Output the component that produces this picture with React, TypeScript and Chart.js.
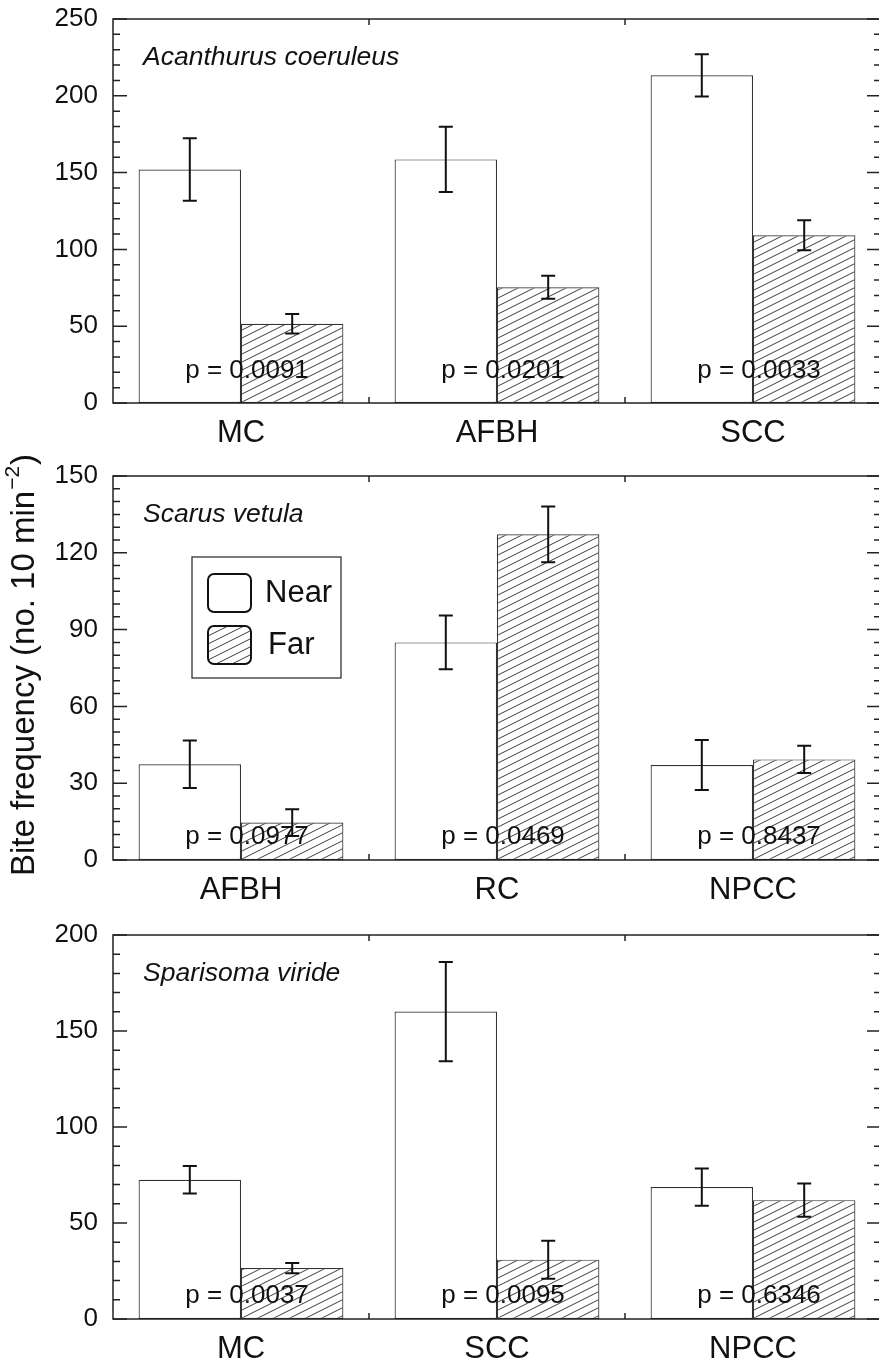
import React, { useEffect, useRef } from 'react';
import { Chart, registerables } from 'chart.js';

Chart.register(...registerables);

const FONT = "'Liberation Sans', Arial, Helvetica, sans-serif";

const seriesNames = ['Near', 'Far'];

// Panel 1: Acanthurus coeruleus
const acSpecies = 'Acanthurus coeruleus';
const acCategories = ['MC', 'AFBH', 'SCC'];
const acNear = [152, 158.6, 213.3];
const acNearSE = [20.3, 21.2, 13.7];
const acFar = [51.6, 75.3, 109.2];
const acFarSE = [6.3, 7.5, 9.8];
const acP = ['p = 0.0091', 'p = 0.0201', 'p = 0.0033'];
const acYTicks = [0, 250, 50, 10]; // min, max, major step, minor step

// Panel 2: Scarus vetula
const svSpecies = 'Scarus vetula';
const svCategories = ['AFBH', 'RC', 'NPCC'];
const svNear = [37.4, 85.0, 37.1];
const svNearSE = [9.3, 10.5, 9.8];
const svFar = [14.6, 127.2, 39.3];
const svFarSE = [5.2, 10.9, 5.3];
const svP = ['p = 0.0977', 'p = 0.0469', 'p = 0.8437'];
const svYTicks = [0, 150, 30, 5];

// Panel 3: Sparisoma viride
const spSpecies = 'Sparisoma viride';
const spCategories = ['MC', 'SCC', 'NPCC'];
const spNear = [72.5, 160.1, 68.7];
const spNearSE = [7.2, 25.8, 9.7];
const spFar = [26.5, 30.9, 61.9];
const spFarSE = [2.7, 9.9, 8.7];
const spP = ['p = 0.0037', 'p = 0.0095', 'p = 0.6346'];
const spYTicks = [0, 200, 50, 10];

const yTitleMain = 'Bite frequency (no. 10 min';
const yTitleSup = '\u22122';
const yTitleEnd = ')';

type PanelCfg = {
  species: string;
  categories: string[];
  near: number[];
  nearSE: number[];
  far: number[];
  farSE: number[];
  pLabels: string[];
  yTicks: number[];
  canvasTop: number;
  pOffset: number;
  legend: boolean;
  yTitle: boolean;
};

const panels: PanelCfg[] = [
  { species: acSpecies, categories: acCategories, near: acNear, nearSE: acNearSE, far: acFar, farSE: acFarSE, pLabels: acP, yTicks: acYTicks, canvasTop: -21, pOffset: 32, legend: false, yTitle: false },
  { species: svSpecies, categories: svCategories, near: svNear, nearSE: svNearSE, far: svFar, farSE: svFarSE, pLabels: svP, yTicks: svYTicks, canvasTop: 436, pOffset: 23, legend: true, yTitle: true },
  { species: spSpecies, categories: spCategories, near: spNear, nearSE: spNearSE, far: spFar, farSE: spFarSE, pLabels: spP, yTicks: spYTicks, canvasTop: 895, pOffset: 23, legend: false, yTitle: false },
];

function makeHatch(): CanvasPattern | string {
  const c = document.createElement('canvas');
  c.width = 16;
  c.height = 8;
  const g = c.getContext('2d');
  if (!g) return '#fff';
  g.fillStyle = '#fff';
  g.fillRect(0, 0, 16, 8);
  g.strokeStyle = '#3c3c3c';
  g.lineWidth = 1;
  for (const off of [-8, 0, 8]) {
    g.beginPath();
    g.moveTo(-16, 16 + off);
    g.lineTo(32, -8 + off);
    g.stroke();
  }
  return g.createPattern(c, 'repeat') || '#fff';
}

const decorPlugin = {
  id: 'panelDecor',
  afterDatasetsDraw(chart: any, _args: any, opts: any) {
    const cfg: PanelCfg = opts.cfg;
    const ctx: CanvasRenderingContext2D = chart.ctx;
    const a = chart.chartArea;
    const xs = chart.scales.x;
    const ys = chart.scales.y;
    const [yMin, yMax, yMajor, yMinor] = cfg.yTicks;
    ctx.save();

    // error bars
    [cfg.nearSE, cfg.farSE].forEach((errs, di) => {
      const vals = chart.data.datasets[di].data as number[];
      const meta = chart.getDatasetMeta(di);
      meta.data.forEach((bar: any, i: number) => {
        const v = vals[i];
        const e = errs[i];
        const px = bar.x;
        const top = ys.getPixelForValue(v + e);
        const bot = ys.getPixelForValue(v - e);
        ctx.strokeStyle = '#111';
        ctx.lineWidth = 2;
        ctx.beginPath();
        ctx.moveTo(px, top);
        ctx.lineTo(px, bot);
        ctx.moveTo(px - 7, top);
        ctx.lineTo(px + 7, top);
        ctx.moveTo(px - 7, bot);
        ctx.lineTo(px + 7, bot);
        ctx.stroke();
      });
    });

    // frame
    ctx.strokeStyle = '#222';
    ctx.lineWidth = 1.5;
    ctx.strokeRect(a.left, a.top, a.right - a.left, a.bottom - a.top);

    // y ticks (inward, both sides)
    const nMinor = Math.round((yMax - yMin) / yMinor);
    ctx.lineWidth = 1.5;
    ctx.beginPath();
    for (let k = 0; k <= nMinor; k++) {
      const v = yMin + k * yMinor;
      const py = ys.getPixelForValue(v);
      const isMajor = Math.abs(v / yMajor - Math.round(v / yMajor)) < 1e-6;
      const len = isMajor ? 14 : 7;
      ctx.moveTo(a.left, py);
      ctx.lineTo(a.left + len, py);
      ctx.moveTo(a.right, py);
      ctx.lineTo(a.right - len, py);
    }
    ctx.stroke();

    // category boundary ticks
    const n = cfg.categories.length;
    ctx.beginPath();
    for (let i = 0; i < n - 1; i++) {
      const bx = (xs.getPixelForValue(i) + xs.getPixelForValue(i + 1)) / 2;
      ctx.moveTo(bx, a.top);
      ctx.lineTo(bx, a.top + 6);
      ctx.moveTo(bx, a.bottom);
      ctx.lineTo(bx, a.bottom - 6);
    }
    ctx.stroke();

    // p labels
    ctx.fillStyle = '#111';
    ctx.font = `26px ${FONT}`;
    ctx.textAlign = 'center';
    ctx.textBaseline = 'middle';
    cfg.pLabels.forEach((t, i) => {
      ctx.fillText(t, xs.getPixelForValue(i) + 6, a.bottom - cfg.pOffset);
    });

    // species
    ctx.font = `italic 26.5px ${FONT}`;
    ctx.textAlign = 'left';
    ctx.fillText(cfg.species, a.left + 30, a.top + 39);

    // legend
    if (cfg.legend) {
      const lx = a.left + 79;
      const ly = a.top + 81;
      ctx.strokeStyle = '#333';
      ctx.lineWidth = 1.3;
      ctx.fillStyle = '#fff';
      ctx.fillRect(lx, ly, 149, 121);
      ctx.strokeRect(lx, ly, 149, 121);
      const rows = [ly + 17, ly + 69];
      chart.data.datasets.forEach((ds: any, di: number) => {
        const ry = rows[di];
        ctx.beginPath();
        (ctx as any).roundRect(lx + 16, ry, 43, 38, 6);
        ctx.fillStyle = ds.backgroundColor;
        ctx.fill();
        ctx.strokeStyle = '#111';
        ctx.lineWidth = 2;
        ctx.stroke();
        ctx.fillStyle = '#111';
        ctx.font = `31px ${FONT}`;
        ctx.textAlign = 'left';
        ctx.textBaseline = 'middle';
        ctx.fillText(ds.label, lx + 73 + (di === 1 ? 3 : 0), ry + 19);
      });
    }

    // y title
    if (cfg.yTitle) {
      ctx.save();
      ctx.translate(25, (a.top + a.bottom) / 2 - 2);
      ctx.rotate(-Math.PI / 2);
      ctx.fillStyle = '#111';
      ctx.textBaseline = 'middle';
      ctx.textAlign = 'left';
      const mainFont = `33px ${FONT}`;
      const supFont = `21px ${FONT}`;
      ctx.font = mainFont;
      const w1 = ctx.measureText(yTitleMain).width;
      const w3 = ctx.measureText(yTitleEnd).width;
      ctx.font = supFont;
      const w2 = ctx.measureText(yTitleSup).width;
      let x0 = -(w1 + w2 + w3) / 2;
      ctx.font = mainFont;
      ctx.fillText(yTitleMain, x0, 0);
      x0 += w1;
      ctx.font = supFont;
      ctx.fillText(yTitleSup, x0 + 1, -12);
      x0 += w2 + 2;
      ctx.font = mainFont;
      ctx.fillText(yTitleEnd, x0, 0);
      ctx.restore();
    }

    ctx.restore();
  },
};

function Panel({ cfg }: { cfg: PanelCfg }) {
  const ref = useRef<HTMLCanvasElement | null>(null);
  useEffect(() => {
    if (!ref.current) return;
    const hatch = makeHatch();
    const [yMin, yMax, yMajor] = cfg.yTicks;
    const chart = new Chart(ref.current, {
      type: 'bar',
      data: {
        labels: cfg.categories,
        datasets: [
          {
            label: seriesNames[0],
            data: cfg.near,
            backgroundColor: '#ffffff',
            borderColor: '#333',
            borderWidth: 1.2,
            borderSkipped: false,
            categoryPercentage: 0.8,
            barPercentage: 1.0,
          },
          {
            label: seriesNames[1],
            data: cfg.far,
            backgroundColor: hatch as any,
            borderColor: '#333',
            borderWidth: 1.2,
            borderSkipped: false,
            categoryPercentage: 0.8,
            barPercentage: 1.0,
          },
        ],
      },
      options: {
        animation: false,
        responsive: false,
        devicePixelRatio: 1,
        layout: { padding: { top: 40, right: 1, left: 0, bottom: 0 } },
        plugins: {
          legend: { display: false },
          tooltip: { enabled: false },
          panelDecor: { cfg },
        } as any,
        scales: {
          x: {
            type: 'category',
            grid: { display: false, drawTicks: false },
            border: { display: false },
            ticks: { color: '#111', font: { family: FONT, size: 31 }, padding: 12 },
            afterFit: (s: any) => {
              s.height = 60;
            },
          },
          y: {
            min: yMin,
            max: yMax,
            grid: { display: false, drawTicks: false },
            border: { display: false },
            ticks: { stepSize: yMajor, color: '#111', font: { family: FONT, size: 26 }, padding: 15 },
            afterFit: (s: any) => {
              s.width = 113;
            },
          },
        },
      },
      plugins: [decorPlugin],
    });
    return () => chart.destroy();
  }, [cfg]);
  return (
    <canvas
      ref={ref}
      width={882}
      height={484}
      style={{ position: 'absolute', left: 0, top: cfg.canvasTop, width: 882, height: 484 }}
    />
  );
}

export default function App() {
  return (
    <div
      style={{
        position: 'absolute',
        left: 0,
        top: 0,
        width: 879,
        height: 1367,
        overflow: 'hidden',
        background: '#fff',
      }}
    >
      {panels.map((p, i) => (
        <Panel key={i} cfg={p} />
      ))}
    </div>
  );
}
